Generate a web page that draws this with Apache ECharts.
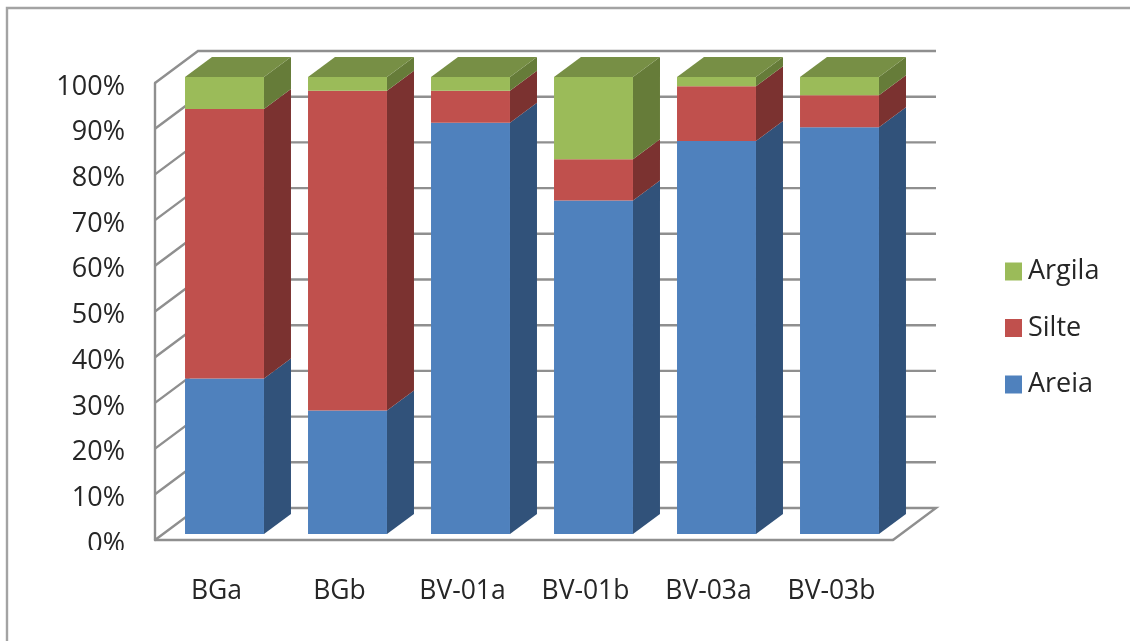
<!DOCTYPE html>
<html>
<head>
<meta charset="utf-8">
<style>html,body{margin:0;padding:0;background:#fff}#chart{width:1130px;height:641px}</style>
<script src="https://cdn.jsdelivr.net/npm/echarts@6/dist/echarts.min.js"></script>
</head>
<body>
<div id="chart"></div>
<script>
// Soil texture composition per sample, in percent
const categories = ['BGa', 'BGb', 'BV-01a', 'BV-01b', 'BV-03a', 'BV-03b'];
const areia = [34, 27, 90, 73, 86, 89];
const silte = [59, 70, 7, 9, 12, 7];
const argila = [7, 3, 3, 18, 2, 4];
const gridTicks = [0, 10, 20, 30, 40, 50, 60, 70, 80, 90, 100];

const LINE = '#8f8f8f';
const FONT = '"Open Sans", sans-serif';
const TEXT = '#262626';

// Oblique projection used for the fake 3D box
const WALL = { dx: 43, dy: -32 };
const COL = { dx: 27, dy: -20 };
const GAP = { dx: 8, dy: -6 };
const COL_RATIO = 0.642;

function stackRows(values, below) {
  return values.map((v, i) => [i, below[i], below[i] + v]);
}
const zeros = areia.map(() => 0);
const areiaTop = areia.slice();
const silteTop = areia.map((v, i) => v + silte[i]);

// Back wall, left wall and floor lines
function renderWall(params, api) {
  const sys = params.coordSys;
  const y = api.coord([0, api.value(0)])[1];
  const left = sys.x;
  const right = sys.x + sys.width;
  const style = { stroke: LINE, lineWidth: 2.4, fill: null, lineJoin: 'miter' };
  const pts = [[left, y], [left + WALL.dx, y + WALL.dy], [right + WALL.dx, y + WALL.dy]];
  if (api.value(0) === 0) {
    pts.push([right, y]);
  }
  return { type: 'polyline', shape: { points: pts }, style, silent: true };
}

// One stacked block: front, side and (for the uppermost block) the cap
function blockRenderer(front, side, cap) {
  return function (params, api) {
    const cat = api.value(0);
    const w = api.size([1, 0])[0] * COL_RATIO;
    const low = api.coord([cat, api.value(1)]);
    const high = api.coord([cat, api.value(2)]);
    const x0 = low[0] + GAP.dx - w / 2;
    const x1 = x0 + w;
    const yb = low[1] + GAP.dy;
    const yt = high[1] + GAP.dy;
    const children = [
      { type: 'polygon', shape: { points: [[x1, yb], [x1 + COL.dx, yb + COL.dy], [x1 + COL.dx, yt + COL.dy], [x1, yt]] }, style: { fill: side } },
      { type: 'rect', shape: { x: x0, y: yt, width: w, height: yb - yt }, style: { fill: front } }
    ];
    if (cap) {
      children.push({ type: 'polygon', shape: { points: [[x0, yt], [x0 + COL.dx, yt + COL.dy], [x1 + COL.dx, yt + COL.dy], [x1, yt]] }, style: { fill: cap } });
    }
    return { type: 'group', children };
  };
}

function blockSeries(name, rows, front, side, cap) {
  return {
    name, type: 'custom', z: 3, clip: false, silent: true,
    itemStyle: { color: front },
    encode: { x: 0, y: 2 },
    data: rows,
    renderItem: blockRenderer(front, side, cap)
  };
}

const chart = echarts.init(document.getElementById('chart'), null, { renderer: 'canvas' });
chart.setOption({
  animation: false,
  backgroundColor: '#fff',
  grid: { left: 155, top: 83, width: 738, height: 457, containLabel: false },
  legend: {
    orient: 'vertical', left: 1000, top: 253,
    itemWidth: 17, itemHeight: 18, itemGap: 29.5,
    icon: 'rect', selectedMode: false,
    textStyle: { fontFamily: FONT, fontSize: 27, color: TEXT, padding: [0, 0, 0, 1] },
    data: ['Argila', 'Silte', 'Areia']
  },
  xAxis: {
    type: 'category', data: categories,
    axisLine: { show: true, lineStyle: { color: LINE, width: 2.4 } },
    axisTick: { show: false },
    axisLabel: { fontFamily: FONT, fontSize: 26.5, color: TEXT, margin: 38, interval: 0 }
  },
  yAxis: {
    type: 'value', min: 0, max: 100, interval: 10,
    axisLine: { show: true, lineStyle: { color: LINE, width: 2.4 } },
    axisTick: { show: false },
    splitLine: { show: false },
    axisLabel: {
      margin: 30,
      formatter: v => `{pct|${v}%}`,
      rich: { pct: { fontFamily: FONT, fontSize: 27, color: TEXT, padding: [8, 0, 0, 0] } }
    }
  },
  graphic: [
    // Outer chart frame, open on the right and at the bottom
    { type: 'polyline', z: 0, silent: true, shape: { points: [[7, 645], [7, 8], [1135, 8]] }, style: { stroke: '#a3a3a3', lineWidth: 2.4, fill: null } },
    // The bottom tick label is cut off just below the axis
    { type: 'rect', z: 100, silent: true, shape: { x: 60, y: 550, width: 80, height: 16 }, style: { fill: '#fff' } }
  ],
  series: [
    { name: 'walls', type: 'custom', z: 1, clip: false, silent: true, encode: { y: 0 }, data: gridTicks.map(t => [t]), renderItem: renderWall },
    blockSeries('Areia', stackRows(areia, zeros), '#4f81bd', '#31527a'),
    blockSeries('Silte', stackRows(silte, areiaTop), '#c0504d', '#7b3230'),
    blockSeries('Argila', stackRows(argila, silteTop), '#9bbb59', '#667c39', '#778f45')
  ]
});
</script>
</body>
</html>
